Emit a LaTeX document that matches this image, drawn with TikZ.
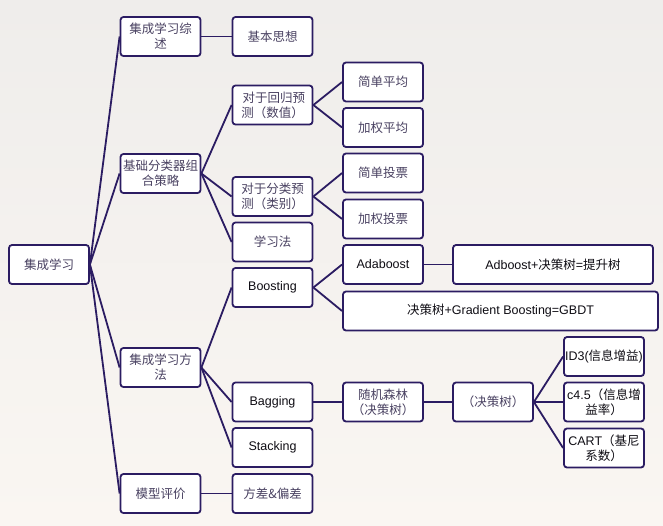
\documentclass[tikz,border=0pt]{standalone}
\usepackage{fontspec}
\setmainfont{Liberation Sans}
\newfontfamily\cjk{Noto Sans CJK SC}
\usepackage{xcolor}
\usetikzlibrary{positioning}

\definecolor{edgeclr}{HTML}{2B1C62}
\definecolor{textclr}{HTML}{4A4262}
\definecolor{bgtop}{HTML}{EFEDEB}
\definecolor{bgbot}{HTML}{FAF6F2}

\begin{document}
\begin{tikzpicture}[x=1pt, y=-1pt,
    box/.style={rectangle, draw=edgeclr, line width=1.8pt, fill=white, rounded corners=3pt,
        minimum width=80pt, minimum height=39pt, inner sep=1pt, align=center, text=textclr,
        font=\cjk\fontsize{12.5}{15}\selectfont},
    lbox/.style={box, font=\fontsize{12.5}{15}\selectfont, text=black!80!textclr},
    link/.style={draw=edgeclr, line width=1.8pt}]
    % Background
    \shade[top color=bgtop, bottom color=bgbot] (0,0) rectangle (663,525);
    \useasboundingbox (0,0) rectangle (663,525);

    % Root and first level
    \node (root) [box] at (49,264.5) {集成学习};
    \node (ovw) [box] at (160.5,36.5) {集成学习综\\述};
    \node (comb) [box] at (160.5,173.5) {基础分类器组\\合策略};
    \node (meth) [box] at (160.5,367.5) {集成学习方\\法};
    \node (eval) [box] at (160.5,493.5) {模型评价};

    % Second level
    \node (idea) [box] at (272.5,36.5) {基本思想};
    \node (reg) [box] at (272.5,105) {\ 对于回归预\\测（数值）};
    \node (cls) [box] at (272.5,196.5) {对于分类预\\测（类别）};
    \node (learn) [box] at (272.5,242) {学习法};
    \node (boost) [lbox] at (272.5,287.5) {Boosting};
    \node (bag) [lbox] at (272.5,402) {Bagging};
    \node (stack) [lbox] at (272.5,447.5) {Stacking};
    \node (var) [box] at (272.5,493.5) {方差\&偏差};

    % Third level
    \node (avg) [box] at (383,82) {简单平均};
    \node (wavg) [box] at (383,127.5) {加权平均};
    \node (vote) [box] at (383,173) {简单投票};
    \node (wvote) [box] at (383,219) {加权投票};
    \node (ada) [lbox] at (383,264.5) {Adaboost};
    \node (gbdt) [lbox, minimum width=315pt] at (500.5,311) {{\cjk 决策树}+Gradient Boosting=GBDT};
    \node (rf) [box] at (383,402) {随机森林\\（决策树）};

    % Fourth level
    \node (tree) [lbox, minimum width=200pt] at (553,264.5) {Adboost+{\cjk 决策树}={\cjk 提升树}};
    \node (dt) [box] at (493,402) {（决策树）};
    \node (id3) [lbox] at (604,356.5) {ID3({\cjk 信息增益})};
    \node (c45) [lbox] at (604,402) {c4.5{\cjk （信息增}\\{\cjk 益率）}};
    \node (cart) [lbox] at (604,448) {CART{\cjk （基尼}\\{\cjk 系数）}};

    % Links
    \foreach \a/\b in {root/ovw, root/comb, root/meth, root/eval,
        ovw/idea, comb/reg, comb/cls, comb/learn, meth/boost, meth/bag, meth/stack, eval/var,
        reg/avg, reg/wavg, cls/vote, cls/wvote, boost/ada, boost/gbdt, bag/rf,
        ada/tree, rf/dt, dt/id3, dt/c45, dt/cart}
        \draw [link] (\a.east) -- (\b.west);
\end{tikzpicture}
\end{document}
